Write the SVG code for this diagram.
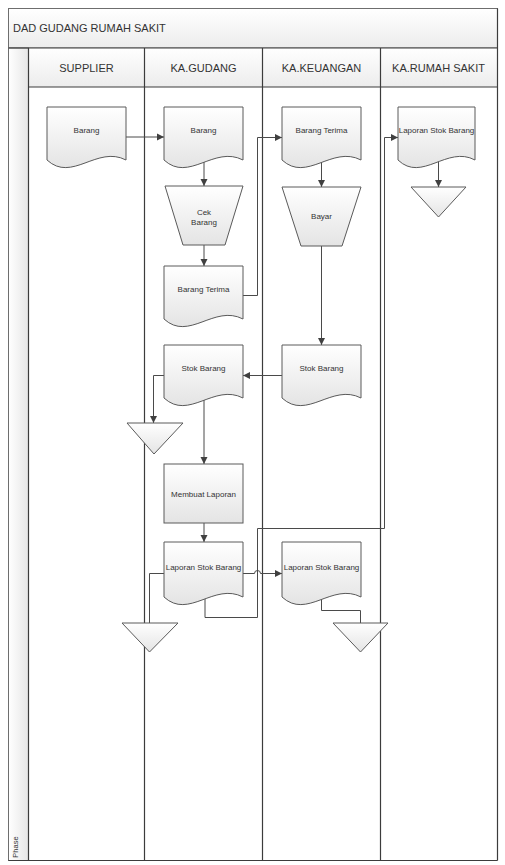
<svg xmlns="http://www.w3.org/2000/svg" width="505" height="865" viewBox="0 0 505 865">
<style>
.t{font-family:"Liberation Sans",Arial,sans-serif;fill:#333;}
.hdr{font-size:11px;text-anchor:middle;}
.lbl{font-size:8px;text-anchor:middle;}
.shape{fill:url(#g);stroke:#5a5a5a;stroke-width:1;}
.lane{fill:none;stroke:#3c3c3c;stroke-width:1.2;}
.c{fill:none;stroke:#4a4a4a;stroke-width:1;}
.ca{fill:none;stroke:#4a4a4a;stroke-width:1;marker-end:url(#ar);}
</style>
<defs>
<linearGradient id="g" x1="0" y1="0" x2="0" y2="1">
<stop offset="0" stop-color="#ffffff"/>
<stop offset="1" stop-color="#e4e4e4"/>
</linearGradient>
<linearGradient id="gh" x1="0" y1="0" x2="0" y2="1">
<stop offset="0" stop-color="#ffffff"/>
<stop offset="1" stop-color="#ececec"/>
</linearGradient>
<linearGradient id="gp" x1="0" y1="0" x2="1" y2="0">
<stop offset="0" stop-color="#ffffff"/>
<stop offset="1" stop-color="#e6e6e6"/>
</linearGradient>
<marker id="ar" markerWidth="8" markerHeight="8" refX="7" refY="4" orient="auto" markerUnits="userSpaceOnUse">
<path d="M0,0.5 L7,4 L0,7.5 Z" fill="#404040"/>
</marker>
</defs>
<rect width="505" height="865" fill="#ffffff"/>
<g id="pool">
<rect x="8.5" y="8.5" width="489" height="39.5" fill="url(#gh)" stroke="#6e6e6e"/>
<text class="t" x="13" y="32" font-size="11">DAD GUDANG RUMAH SAKIT</text>
<rect x="8.5" y="48" width="20" height="812.5" fill="url(#gp)" stroke="#6e6e6e"/>
<rect x="28.5" y="48" width="469" height="39" fill="url(#gh)"/>
<text class="t" x="18" y="847" font-size="7.5" text-anchor="middle" transform="rotate(-90 18 847)">Phase</text>
</g>
<g id="lanes">
<line class="lane" x1="8.5" y1="48" x2="497.5" y2="48"/>
<line class="lane" x1="28.5" y1="87" x2="497.5" y2="87"/>
<line class="lane" x1="28.5" y1="48" x2="28.5" y2="860.5"/>
<line class="lane" x1="144.5" y1="48" x2="144.5" y2="860.5"/>
<line class="lane" x1="262.5" y1="48" x2="262.5" y2="860.5"/>
<line class="lane" x1="380.5" y1="48" x2="380.5" y2="860.5"/>
<line class="lane" x1="497.5" y1="8.5" x2="497.5" y2="860.5"/>
<line class="lane" x1="8.5" y1="860.5" x2="497.5" y2="860.5"/>
<text class="t hdr" x="86.5" y="72">SUPPLIER</text>
<text class="t hdr" x="203.5" y="72">KA.GUDANG</text>
<text class="t hdr" x="321.5" y="72">KA.KEUANGAN</text>
<text class="t hdr" x="438.5" y="72">KA.RUMAH SAKIT</text>
</g>
<g id="connectors">
<path class="ca" d="M126,137 H164"/>
<path class="ca" d="M204,159 V186"/>
<path class="ca" d="M204,245 V266"/>
<path class="ca" d="M243,295.5 H257.5 V137.5 H282"/>
<path class="ca" d="M321.5,159 V187"/>
<path class="ca" d="M321.5,246 V345"/>
<path class="ca" d="M282,375.5 H243"/>
<path class="ca" d="M164,375.5 H153.5 V423"/>
<path class="ca" d="M204,397 V464"/>
<path class="ca" d="M204,523 V542"/>
<path class="c" d="M164,573.5 H149.5 V623"/>
<path class="ca" d="M243,573.5 H254.5 A3,3 0 0 1 260.5,573.5 H282"/>
<path class="ca" d="M205,595 V617.5 H257.5 V528.5 H384.5 V137.5 H398"/>
<path class="c" d="M321.5,596 V610.5 H360.5 V623"/>
<path class="ca" d="M438.5,159 V187"/>
</g>
<g id="n_supplier_barang">
<path class="shape" d="M47,107 H126 V160 C97,145 72,183 47,160 Z"/>
<text class="t lbl" x="86.5" y="133">Barang</text>
</g>
<g id="n_gudang_barang">
<path class="shape" d="M164,107 H243 V160 C214,145 189,183 164,160 Z"/>
<text class="t lbl" x="203.5" y="133">Barang</text>
</g>
<g id="n_cek_barang">
<path class="shape" d="M165,186 H243 L225,245 H183 Z"/>
<text class="t lbl" x="204" y="215">Cek</text>
<text class="t lbl" x="204" y="225">Barang</text>
</g>
<g id="n_gudang_barang_terima">
<path class="shape" d="M164,266 H243 V319 C214,304 189,342 164,319 Z"/>
<text class="t lbl" x="203.5" y="292">Barang Terima</text>
</g>
<g id="n_keu_barang_terima">
<path class="shape" d="M282,107 H361 V160 C332,145 307,183 282,160 Z"/>
<text class="t lbl" x="321.5" y="133">Barang Terima</text>
</g>
<g id="n_bayar">
<path class="shape" d="M282,187 H361 L342,246 H301 Z"/>
<text class="t lbl" x="321.5" y="219">Bayar</text>
</g>
<g id="n_rs_laporan">
<path class="shape" d="M398,107 H475 V160 C447,145 422,183 398,160 Z"/>
<text class="t lbl" x="436.5" y="133" font-size="7.6">Laporan Stok Barang</text>
</g>
<g id="n_rs_end">
<path class="shape" d="M411,187 H466 L438.5,217 Z"/>
</g>
<g id="n_keu_stok">
<path class="shape" d="M282,345 H361 V398 C332,383 307,421 282,398 Z"/>
<text class="t lbl" x="321.5" y="371">Stok Barang</text>
</g>
<g id="n_gudang_stok">
<path class="shape" d="M164,345 H243 V398 C214,383 189,421 164,398 Z"/>
<text class="t lbl" x="203.5" y="371">Stok Barang</text>
</g>
<g id="n_stok_end">
<path class="shape" d="M127,423 H183 L154,454 Z"/>
</g>
<g id="n_membuat_laporan">
<rect class="shape" x="164" y="464" width="79" height="59"/>
<text class="t lbl" x="203.5" y="497">Membuat Laporan</text>
</g>
<g id="n_gudang_laporan">
<path class="shape" d="M164,542 H243 V597 C214,582 189,620 164,597 Z"/>
<text class="t lbl" x="203.5" y="570">Laporan Stok Barang</text>
</g>
<g id="n_keu_laporan">
<path class="shape" d="M282,542 H361 V597 C332,582 307,620 282,597 Z"/>
<text class="t lbl" x="321.5" y="570">Laporan Stok Barang</text>
</g>
<g id="n_gudang_end">
<path class="shape" d="M122,623 H178 L149.5,652 Z"/>
</g>
<g id="n_keu_end">
<path class="shape" d="M333,623 H388 L360.5,652 Z"/>
</g>
</svg>
